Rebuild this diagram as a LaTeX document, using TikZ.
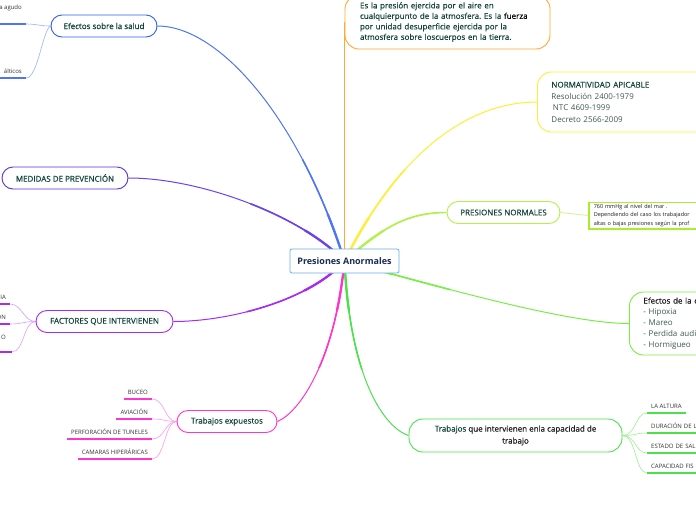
\documentclass[tikz,border=0pt]{standalone}
\usepackage{fontspec}
\setmainfont{Open Sans}
\newfontfamily\medfont{Open Sans}[FakeBold=0.5]
\pgfdeclarelayer{bg}
\pgfsetlayers{bg,main}
\frenchspacing
\definecolor{tgreen}{HTML}{12463A}
\definecolor{tgray}{HTML}{3F5A50}
\definecolor{tblack}{HTML}{1E1E1E}
\definecolor{txtgray}{HTML}{333333}
\definecolor{navy}{HTML}{1A2B55}
\definecolor{ccentral}{HTML}{6AAEE6}
\definecolor{cblue}{HTML}{2F5EF2}
\definecolor{cindigo}{HTML}{5A2FE6}
\definecolor{cpurple}{HTML}{A62CF0}
\definecolor{cmag}{HTML}{FF35CC}
\definecolor{cgreen}{HTML}{4CE04C}
\definecolor{cgreenb}{HTML}{77EE44}
\definecolor{cyg}{HTML}{B4F04A}
\definecolor{cygb}{HTML}{A8EE2A}
\definecolor{cyellow}{HTML}{FFEE33}
\definecolor{corange}{HTML}{FFA92E}
\definecolor{lblue}{HTML}{9BB0FF}
\definecolor{lpurple}{HTML}{D9A0FF}
\definecolor{lmag}{HTML}{FF99E8}
\definecolor{lgreen}{HTML}{99F090}
\definecolor{lyg}{HTML}{D4F59A}
\newcommand{\brc}[2]{%
  \draw[line width=1pt,#1] #2;
  \begin{scope}\clip (cc) circle (110pt); \draw[line width=1.6pt,#1] #2; \end{scope}
  \begin{scope}\clip (cc) circle (50pt); \draw[line width=2.3pt,#1] #2; \end{scope}}
\begin{document}
\begin{tikzpicture}[x=1pt,y=-1pt,
  topic/.style={draw, fill=white, rounded corners=11pt, line width=0.9pt, text=tgreen,
    font=\medfont\fontsize{8}{10}\selectfont, inner sep=0pt, minimum height=22pt},
  central/.style={draw=ccentral, fill=white, rounded corners=2pt, line width=0.8pt,
    minimum width=109pt, minimum height=24pt, inner sep=0pt, text=navy,
    font=\bfseries\fontsize{9}{11}\selectfont},
  infobox/.style={fill=white, line width=0.9pt, rounded corners=14pt, align=left},
  chl/.style={inner xsep=4pt, inner ysep=0pt, text height=4.5pt, text depth=4.5pt,
    font=\fontsize{6}{7}\selectfont, text=txtgray},
  frag/.style={inner xsep=4pt, inner ysep=0pt, font=\fontsize{6}{7}\selectfont, text=txtgray},
  sub/.style={line width=0.6pt},
  uline/.style={line width=1.3pt},
]
\useasboundingbox (0,0) rectangle (696,520);
\coordinate (cc) at (344.5,261);

% central node
\node[central] (c) at (cc) {Presiones Anormales};

% main topics
\node[topic, draw=cblue, minimum width=106pt] (esal) at (104,26) {Efectos sobre la salud};
\node[topic, draw=cindigo, minimum width=126pt] (med) at (65,178) {MEDIDAS DE PREVENCIÓN};
\node[topic, draw=cpurple, minimum width=137pt] (fac) at (104.5,321.5) {FACTORES QUE INTERVIENEN};
\node[topic, draw=cmag, minimum width=100pt] (texp) at (227,421.5) {Trabajos expuestos};
\node[topic, draw=cyg, minimum width=113pt] (pn) at (503.5,212.5) {PRESIONES NORMALES};
\node[topic, draw=cgreen, minimum width=213pt, minimum height=33pt, rounded corners=14pt,
  align=center, font=\medfont\fontsize{8}{12}\selectfont] (tqi) at (515.5,435.5)
  {Trabajos \textcolor{tblack}{que intervienen enla capacidad de}\\\textcolor{tblack}{trabajo}};

% info boxes
\node[infobox, draw=corange, minimum width=205pt, minimum height=54pt, text width=175pt,
  inner xsep=15pt, font=\medfont\fontsize{8}{10.5}\selectfont, text=tgreen] (def) at (447.5,22)
  {Es la presión ejercida por el aire en\\cualquierpunto de la atmosfera. Es la \textcolor{black}{fuerza}\\por unidad desuperficie ejercida por la\\atmosfera sobre loscuerpos en la tierra.};
\node[infobox, draw=cyellow, anchor=west, minimum height=60pt, text width=160pt,
  inner xsep=14pt, font=\fontsize{8}{11.5}\selectfont, text=tgray] (nor) at (537,102)
  {\textcolor{tgreen}{\medfont NORMATIVIDAD APICABLE}\\Resolución 2400-1979\\\hspace*{1.5pt}NTC 4609-1999\\Decreto 2566-2009};
\node[draw=cygb, fill=white, line width=1.5pt, anchor=west, minimum height=25pt, text width=150pt,
  align=left, inner xsep=5pt, inner ysep=2pt, font=\fontsize{5.5}{8.5}\selectfont, text=tblack] (pnb) at (588,215.5)
  {760 mmHg al nivel del mar .\\Dependiendo del caso los trabajador\\altas o bajas presiones según la prof};
\node[infobox, draw=cgreenb, anchor=west, minimum height=63pt, text width=100pt,
  inner xsep=14pt, font=\fontsize{8}{11}\selectfont, text=tgray] (efx) at (629,323.5)
  {\textcolor{tblack}{\medfont Efectos de la c}\\- Hipoxia\\- Mareo\\- Perdida audi\\- Hormigueo};

% children of Trabajos expuestos
\node[chl, anchor=south east] (buc) at (152,399) {BUCEO};
\node[chl, anchor=south east] (avi) at (152,419) {AVIACIÓN};
\node[chl, anchor=south east] (per) at (152,439) {PERFORACIÓN DE TUNELES};
\node[chl, anchor=south east] (cam) at (152,459) {CAMARAS HIPERÁRICAS};

% children of Trabajos que intervienen
\node[chl, anchor=south west] (alt) at (647,413) {LA ALTURA};
\node[chl, anchor=south west, text width=52pt, align=left] (dur) at (647,433) {DURACIÓN DE L};
\node[chl, anchor=south west, text width=52pt, align=left] (est) at (647,453) {ESTADO DE SAL};
\node[chl, anchor=south west, text width=52pt, align=left] (cap) at (647,473) {CAPACIDAD FIS};

% children of Efectos sobre la salud (cut off at the left edge)
\node[frag, anchor=east] (s1) at (26,7.5) {a agudo};
\coordinate (s1a) at (-5,24);
\coordinate (s1b) at (26,24);
\node[chl, anchor=south east] (s2) at (26,78) {álticos};

% children of Factores (cut off at the left edge)
\node[chl, anchor=south east] (f1) at (10,304) {IA};
\node[chl, anchor=south east] (f2) at (10,324) {ON};
\node[frag, anchor=east] (f3) at (10,337) {O};
\coordinate (f3a) at (-5,352);
\coordinate (f3b) at (12,352);

\begin{pgfonlayer}{bg}
  \fill[white] (0,0) rectangle (696,520);
  % main branches (tapering towards the topics)
  \brc{cblue!85!white}{(cc) .. controls (300,120) and (220,26) .. (esal.east)}
  \brc{cindigo!90!white}{(cc) .. controls (300,215) and (200,178) .. (med.east)}
  \brc{cpurple}{(cc) .. controls (310,300) and (230,321.5) .. (fac.east)}
  \brc{cmag}{(cc) .. controls (335,360) and (300,412) .. (texp.east)}
  \brc{cgreen}{(cc) .. controls (350,380) and (385,428) .. (tqi.west)}
  \brc{cgreenb}{(cc) .. controls (450,290) and (570,323.5) .. (efx.west)}
  \brc{cyg}{(cc) .. controls (385,225) and (410,212.5) .. (pn.west)}
  \brc{cyellow}{(cc) .. controls (400,150) and (470,102) .. (nor.west)}
  \draw[line width=1pt, corange] (cc) -- (cc |- def.west);
  \draw[sub, color=lyg, line width=0.9pt] (pn.east) -- (pnb.west);

  % Trabajos expuestos children
  \foreach \n in {buc,avi,per,cam}{
    \draw[uline, cmag] (\n.south west) -- (\n.south east);
    \draw[sub, lmag] (\n.south east) .. controls +(13,0) and +(-12,0) .. (texp.west);
  }
  % Trabajos que intervienen children
  \foreach \n in {alt,dur,est,cap}{
    \draw[uline, cgreen] (\n.south west) -- (\n.south east);
    \draw[sub, lgreen] (tqi.east) .. controls +(14,0) and +(-12,0) .. (\n.south west);
  }
  % Efectos sobre la salud children
  \draw[uline, cblue!85!white] (s1a) -- (s1b);
  \draw[sub, lblue] (s1b) .. controls +(12,0) and +(-12,0) .. (esal.west);
  \draw[uline, cblue!85!white] ([xshift=-5pt]s2.south west) -- (s2.south east);
  \draw[sub, lblue] (s2.south east) .. controls +(12,0) and +(-8,4) .. (esal.west);
  % Factores children
  \draw[uline, cpurple] ([xshift=-5pt]f1.south west) -- (f1.south east);
  \draw[sub, lpurple] (f1.south east) .. controls +(12,0) and +(-12,0) .. (fac.west);
  \draw[uline, cpurple] ([xshift=-5pt]f2.south west) -- (f2.south east);
  \draw[sub, lpurple] (f2.south east) .. controls +(12,0) and +(-12,0) .. (fac.west);
  \draw[uline, cpurple] (f3a) -- (f3b);
  \draw[sub, lpurple] (f3b) .. controls +(12,0) and +(-12,0) .. (fac.west);
\end{pgfonlayer}
\end{tikzpicture}
\end{document}
